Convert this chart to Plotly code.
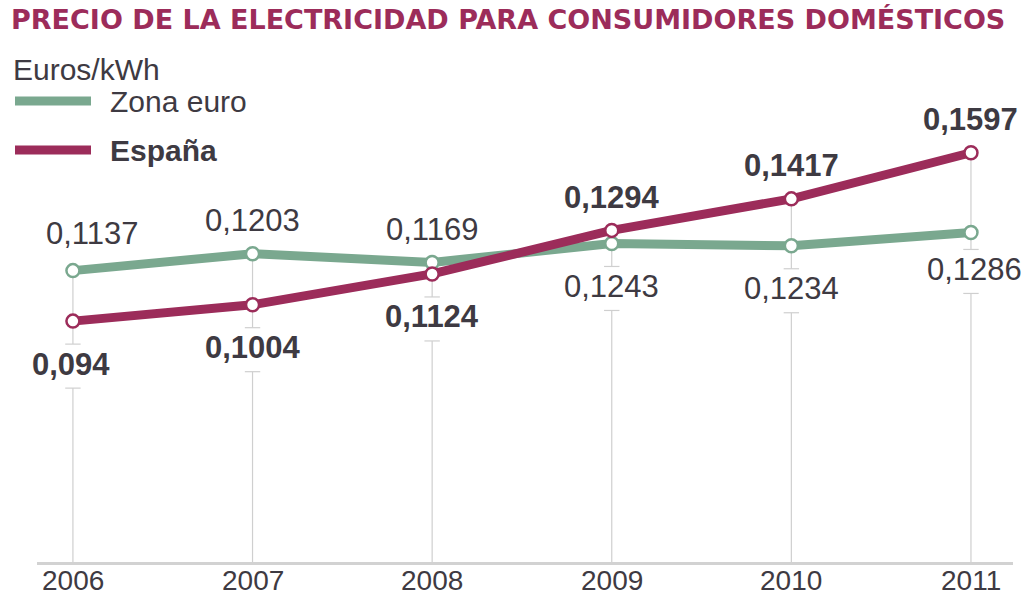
import plotly.graph_objects as go

# Precio de la electricidad, euros por kWh
years = [2006, 2007, 2008, 2009, 2010, 2011]
zona_euro = [0.1137, 0.1203, 0.1169, 0.1243, 0.1234, 0.1286]
espana = [0.094, 0.1004, 0.1124, 0.1294, 0.1417, 0.1597]
series_names = ["Zona euro", "España"]
title_text = "PRECIO DE LA ELECTRICIDAD PARA CONSUMIDORES DOMÉSTICOS"
unit_text = "Euros/kWh"

GREEN = "#7aa88f"
WINE = "#9c2c5a"
TEXT = "#3e3a42"
GRID = "#cfcfcf"
FONT = "Liberation Sans, Arial, sans-serif"

W, H = 1029, 599
M_L, M_R, M_T, M_B = 37, 16, 0, 37
PLOT_W = W - M_L - M_R
PLOT_H = H - M_T - M_B
X_RANGE = [2005.8, 2011.234]
Y_RANGE = [0, 0.2193]
PX_PER_UNIT = PLOT_H / (Y_RANGE[1] - Y_RANGE[0])


def px_to_paper_x(px):
    return (px - M_L) / PLOT_W


def px_to_paper_y(py):
    return (H - M_B - py) / PLOT_H


def fmt(v):
    return str(v).replace(".", ",")


# label offsets (pixels) relative to the marker they describe
ABOVE = 33
BELOW = 43
GAP_CENTER = 45
GAP_HALF = 22
x_nudge = {(2006, "upper"): 20, (2006, "lower"): -2, (2011, "lower"): 4}
y_nudge = {(2006, "upper"): 4, (2011, "lower"): 6}

fig = go.Figure()

# vertical guide lines per year, broken where the lower label sits
gx, gy, cx, cy = [], [], [], []
for yr, z, e in zip(years, zona_euro, espana):
    lo, hi = min(z, e), max(z, e)
    center = GAP_CENTER - y_nudge.get((yr, "lower"), 0)
    gap_top = lo - (center - GAP_HALF) / PX_PER_UNIT
    gap_bot = lo - (center + GAP_HALF) / PX_PER_UNIT
    gx += [yr, yr, None, yr, yr, None]
    gy += [0, gap_bot, None, gap_top, hi, None]
    cx += [yr, yr]
    cy += [gap_bot, gap_top]

fig.add_trace(go.Scatter(x=gx, y=gy, mode="lines", line=dict(color=GRID, width=1.2),
                         hoverinfo="skip", showlegend=False))
fig.add_trace(go.Scatter(x=cx, y=cy, mode="markers",
                         marker=dict(symbol="line-ew-open", size=11, color=GRID,
                                     line=dict(color=GRID, width=1.2)),
                         hoverinfo="skip", showlegend=False))

for name, vals, color in [(series_names[0], zona_euro, GREEN), (series_names[1], espana, WINE)]:
    fig.add_trace(go.Scatter(
        x=years, y=vals, mode="lines+markers", name=name,
        line=dict(color=color, width=9),
        marker=dict(symbol="circle", size=13, color="white",
                    line=dict(color=color, width=2.5)),
        showlegend=False,
    ))

# value labels
annotations = []
for yr, z, e in zip(years, zona_euro, espana):
    for v, bold, other in [(z, False, e), (e, True, z)]:
        pos = "upper" if v >= other else "lower"
        shift = ABOVE if pos == "upper" else -BELOW
        txt = f"<b>{fmt(v)}</b>" if bold else fmt(v)
        annotations.append(dict(
            x=yr, y=v, xref="x", yref="y", text=txt, showarrow=False,
            xanchor="center", yanchor="middle",
            xshift=x_nudge.get((yr, pos), 0),
            yshift=shift + y_nudge.get((yr, pos), 0),
            font=dict(family=FONT, size=31, color=TEXT),
        ))

# year labels under the baseline
for yr in years:
    annotations.append(dict(
        x=yr, y=0, xref="x", yref="paper", text=str(yr), showarrow=False,
        xanchor="center", yanchor="middle", yshift=-18,
        font=dict(family=FONT, size=28, color=TEXT),
    ))

# unit and legend
annotations.append(dict(
    x=px_to_paper_x(11), y=px_to_paper_y(69), xref="paper", yref="paper",
    text=unit_text, showarrow=False, xanchor="left", yanchor="middle",
    font=dict(family=FONT, size=30, color=TEXT),
))
shapes = []
for i, (name, color) in enumerate([(series_names[0], GREEN), (series_names[1], WINE)]):
    ly = 101 + i * 49
    shapes.append(dict(
        type="line", xref="paper", yref="paper",
        x0=px_to_paper_x(15), x1=px_to_paper_x(91),
        y0=px_to_paper_y(ly), y1=px_to_paper_y(ly),
        line=dict(color=color, width=9),
    ))
    annotations.append(dict(
        x=px_to_paper_x(108), y=px_to_paper_y(ly), xref="paper", yref="paper",
        text=f"<b>{name}</b>" if i == 1 else name, showarrow=False,
        xanchor="left", yanchor="middle",
        font=dict(family=FONT, size=30, color=TEXT),
    ))

fig.update_layout(
    width=W, height=H,
    margin=dict(l=M_L, r=M_R, t=M_T, b=M_B, autoexpand=False),
    paper_bgcolor="white", plot_bgcolor="white",
    title=dict(
        text=f"<b>{title_text}</b>",
        xref="container", yref="container",
        x=11 / W, y=1 - 20 / H, xanchor="left", yanchor="middle",
        font=dict(family="DejaVu Sans, sans-serif", size=27, color=WINE),
    ),
    xaxis=dict(
        range=X_RANGE, tickvals=years, showticklabels=False, automargin=False,
        showgrid=False, zeroline=False, showline=True, linecolor="#d2d2d2", linewidth=3,
        ticks="", fixedrange=True,
    ),
    yaxis=dict(range=Y_RANGE, visible=False, fixedrange=True, automargin=False),
    annotations=annotations,
    shapes=shapes,
    showlegend=False,
)

fig.write_html("out.html")
